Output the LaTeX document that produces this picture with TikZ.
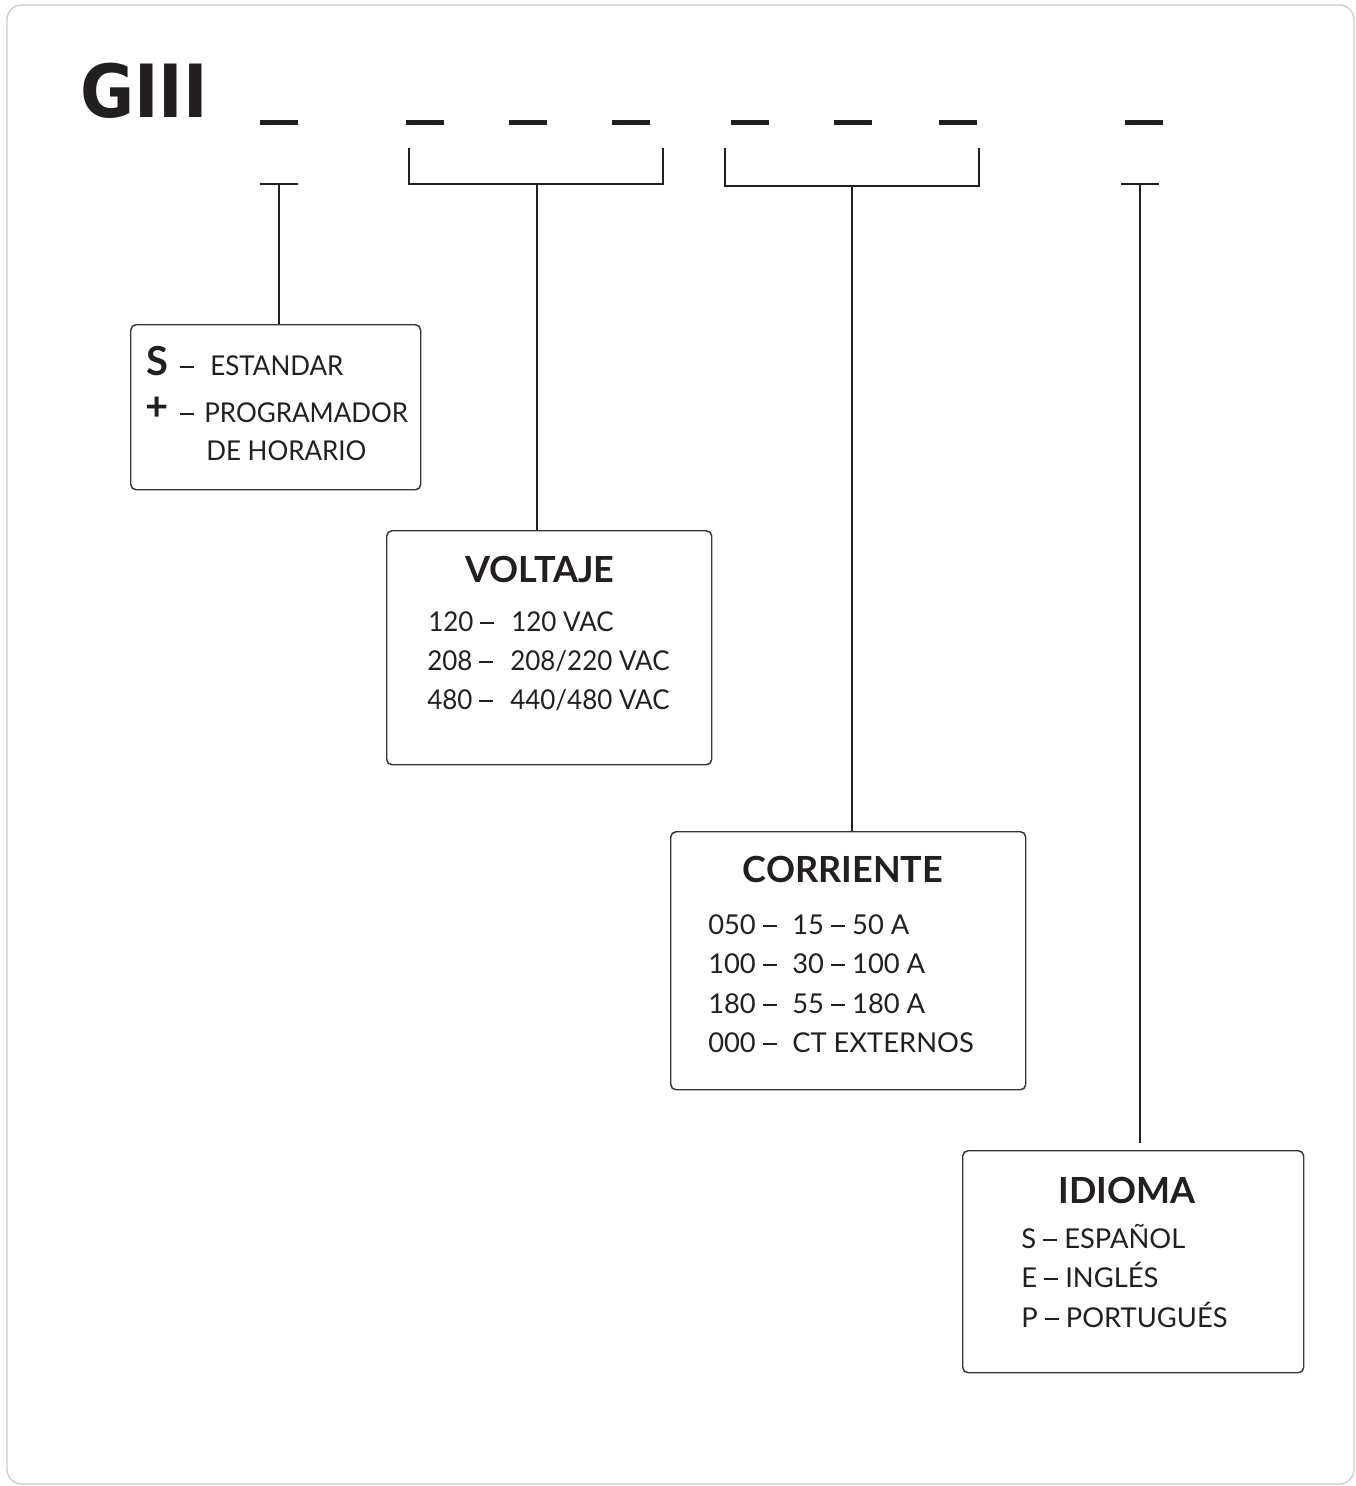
\documentclass[tikz,border=0pt]{standalone}
\usepackage{fontspec}
\setmainfont{Lato}
\newfontfamily\narrowfont{Lato}[FakeStretch=0.95]
\newfontfamily\titlefont{DejaVu Sans Condensed}
\definecolor{ink}{HTML}{231F20}
\definecolor{framegray}{HTML}{CCCCCC}
\newcommand\dsh{\rule[0.24em]{0.52em}{0.08em}}
\begin{document}
\begin{tikzpicture}[x=0.75pt,y=-0.75pt,
  bar/.style={line width=3.8pt,draw=ink},
  conn/.style={line width=1pt,draw=ink},
  optbox/.style={draw=ink!90,line width=1.1pt,rounded corners=4pt,rectangle,inner sep=0pt,anchor=north west},
  txt/.style={inner sep=0pt,anchor=base west,text=ink,font=\fontsize{20.5}{24}\selectfont},
  ntxt/.style={txt,font=\fontsize{20.5}{24}\selectfont\narrowfont},
  head/.style={inner sep=0pt,anchor=base,text=ink,font=\fontsize{27}{30}\selectfont\bfseries},
]
\useasboundingbox (0,0) rectangle (1356,1486);
\draw[framegray,line width=1pt,rounded corners=11pt] (7,5) rectangle (1354,1484);

% title
\node[inner sep=0pt,anchor=base west,text=ink,font=\fontsize{55}{60}\selectfont\titlefont\bfseries] (title) at (80,117) {GIII};

% bars
\foreach \n/\a in {b1/260,b2/406,b3/509,b4/612,b5/731,b6/834,b7/939,b8/1125}{
  \coordinate (\n l) at (\a,122.5);
  \coordinate (\n r) at (\a+38,122.5);
  \draw[bar] (\n l) -- (\n r);
}

% boxes
\node[optbox,minimum width=217.5pt,minimum height=123.75pt] (box1) at (130,324) {};
\node[optbox,minimum width=243.75pt,minimum height=175.5pt] (box2) at (386,530) {};
\node[optbox,minimum width=266.25pt,minimum height=193.5pt] (box3) at (670,831) {};
\node[optbox,minimum width=255.75pt,minimum height=166.5pt] (box4) at (962,1150) {};

% connector 1
\coordinate (t1l) at (260,184);
\coordinate (t1r) at (298,184);
\coordinate (t1m) at (279,184);
\draw[conn] (t1l) -- (t1r);
\draw[conn] (t1m) -- (t1m |- box1.north);

% connector 2
\coordinate (k2a) at (409,148);
\coordinate (k2b) at (663,148);
\coordinate (k2m) at (537,184);
\draw[conn] (k2a) |- (k2m) -| (k2b);
\draw[conn] (k2m) -- (k2m |- box2.north);

% connector 3
\coordinate (k3a) at (725,148);
\coordinate (k3b) at (979,148);
\coordinate (k3m) at (852,186);
\draw[conn] (k3a) |- (k3m) -| (k3b);
\draw[conn] (k3m) -- (k3m |- box3.north);

% connector 4
\coordinate (t4l) at (1121,184);
\coordinate (t4r) at (1159,184);
\coordinate (t4m) at (1140,184);
\draw[conn] (t4l) -- (t4r);
\draw[conn,shorten >=5pt] (t4m) -- (t4m |- box4.north);

% box1 texts
\node[txt,font=\fontsize{30}{32}\selectfont\bfseries] (s1) at (146,375) {S};
\node[txt] (s1d) at (180,375) {\dsh};
\node[ntxt] (s1t) at (210,375) {ESTANDAR};
\node[txt,font=\fontsize{30}{32}\selectfont\bfseries] (p1) at (145,420) {+};
\node[txt] (p1d) at (180,422) {\dsh};
\node[ntxt] (p1t) at (204,422) {PROGRAMADOR};
\node[ntxt] (p1u) at (206,460) {DE HORARIO};

% box2 texts
\node[head] (h2) at (540,582) {VOLTAJE};
\node[ntxt] (v1a) at (428,631) {120 \dsh};
\node[ntxt] (v1b) at (511,631) {120 VAC};
\node[ntxt] (v2a) at (427,670) {208 \dsh};
\node[ntxt] (v2b) at (510,670) {208/220 VAC};
\node[ntxt] (v3a) at (427,709) {480 \dsh};
\node[ntxt] (v3b) at (510,709) {440/480 VAC};

% box3 texts
\node[head] (h3) at (843,882) {CORRIENTE};
\node[txt] (c1a) at (708,934) {050 \dsh};
\node[txt] (c1b) at (792,934) {15 \dsh\ 50 A};
\node[txt] (c2a) at (708,973) {100 \dsh};
\node[txt] (c2b) at (792,973) {30 \dsh\ 100 A};
\node[txt] (c3a) at (708,1013) {180 \dsh};
\node[txt] (c3b) at (792,1013) {55 \dsh\ 180 A};
\node[txt] (c4a) at (708,1052) {000 \dsh};
\node[txt] (c4b) at (792,1052) {CT EXTERNOS};

% box4 texts
\node[head] (h4) at (1127,1203) {IDIOMA};
\node[txt] (i1) at (1021,1248) {S \dsh\ ESPAÑOL};
\node[txt] (i2) at (1021,1287) {E \dsh\ INGLÉS};
\node[txt] (i3) at (1021,1327) {P \dsh\ PORTUGUÉS};
\end{tikzpicture}
\end{document}
